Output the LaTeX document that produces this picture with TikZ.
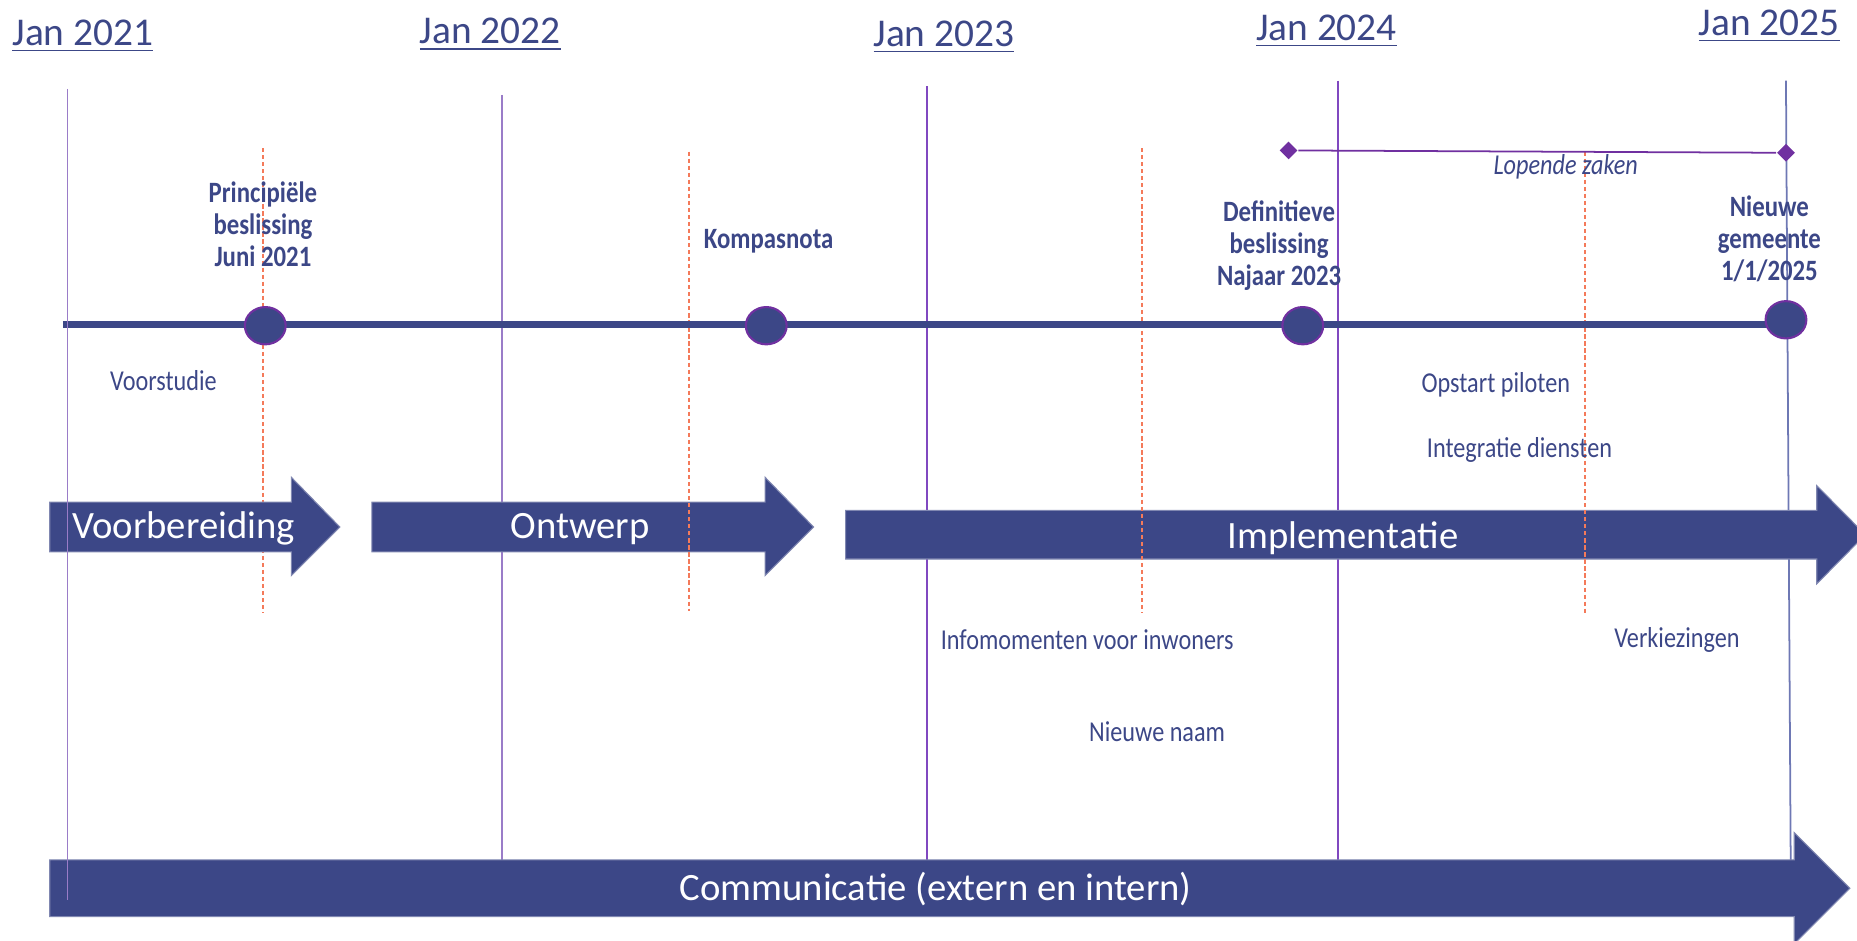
\documentclass[tikz,border=0pt]{standalone}
\usepackage{fontspec}
\setmainfont{Carlito}
\newfontfamily\narrowfont[FakeStretch=0.84]{Carlito}
\usetikzlibrary{positioning,shapes.geometric}
\definecolor{navy}{HTML}{3C4787}
\definecolor{paars}{HTML}{7030A0}
\definecolor{rasterlijn}{HTML}{9A7CC8}
\definecolor{rasterdonker}{HTML}{8048C0}
\definecolor{rasterlaatst}{HTML}{6E78B4}
\definecolor{oranje}{HTML}{F47A5A}
\tikzset{
  jaar/.style={font=\fontsize{11.2}{13}\selectfont, text=navy, inner sep=0pt, anchor=base},
  mijlpaal/.style={ellipse, fill=navy, draw=paars, line width=0.6pt, minimum width=11.6pt, minimum height=10.6pt, inner sep=0pt},
  mijltekst/.style={font=\narrowfont\bfseries\fontsize{8.4}{9.1}\selectfont, text=navy, align=center, inner sep=0pt},
  klein/.style={font=\narrowfont\fontsize{8.2}{9.1}\selectfont, text=navy, inner sep=0pt}
}

\begin{document}
\begin{tikzpicture}[
    x=0.011843cm, y=-0.011843cm,
    fase/.style={fill=navy, draw=navy!65!white, line width=0.3pt},
    fasetekst/.style={font=\fontsize{11}{13}\selectfont, text=white, inner sep=0pt, anchor=base},
    raster/.style={draw=rasterlijn, line width=0.5pt},
    halfjaar/.style={draw=oranje, line width=0.5pt, dash pattern=on 1.2pt off 0.8pt},
    tijdlijn/.style={draw=navy, line width=1.9pt},
    ruit/.style={diamond, fill=paars, inner sep=0pt, minimum size=5.2pt},
    lopend/.style={draw=paars, line width=0.5pt}
]
\useasboundingbox (0,0) rectangle (1568,794);
\clip (0,0) rectangle (1568,794);

% jaarlijnen
\draw[raster] (424,80) -- (424,727);
\draw[raster, draw=rasterdonker] (783,73) -- (783,727);
\draw[raster, draw=rasterdonker] (1130,68) -- (1130,727);
\draw[raster, draw=rasterlaatst] (1508,68) -- (1512,727);

% fasen
\path[fase] (314,424) -- (646,424) -- (646,403) -- (687,445) -- (646,486) -- (646,466) -- (314,466) -- cycle;
\path[fase] (714,431) -- (1534,431) -- (1534,410) -- (1575,451.5) -- (1534,493) -- (1534,472) -- (714,472) -- cycle;
\path[fase] (42,726) -- (1515,726) -- (1515,703) -- (1562,750) -- (1515,797) -- (1515,774) -- (42,774) -- cycle;

% halfjaarlijnen
\foreach \x/\ya/\yb in {222/125/518, 582/128/516, 964/125/518, 1338/128/518}
  \draw[halfjaar] (\x,\ya) -- (\x,\yb);

% tijdlijn met mijlpalen
\coordinate (tstart) at (53,274);
\coordinate (teind) at (1500,274);
\draw[tijdlijn] (tstart) -- (teind);
\node[mijlpaal] (principe) at (224,275) {};
\node[mijlpaal] (kompas) at (647,275) {};
\node[mijlpaal] (definitief) at (1100,275) {};
\node[mijlpaal] (nieuw) at (1508,270) {};

\path[fase] (42,424) -- (246,424) -- (246,403) -- (287,445) -- (246,486) -- (246,466) -- (42,466) -- cycle;
\draw[raster] (57,75) -- (57,760);

% lopende zaken
\node[ruit] (lz1) at (1088,127) {};
\node[ruit] (lz2) at (1508,129) {};
\draw[lopend] (lz1) -- (lz2);
\node[klein, font=\narrowfont\itshape\fontsize{8.2}{9.1}\selectfont] (lopend) at (1322,141) {Lopende zaken};

% jaren
\node[jaar] (j21) at (70,38) {\underline{Jan 2021}};
\node[jaar] (j22) at (414,37) {\underline{Jan 2022}};
\node[jaar] (j23) at (797,39) {\underline{Jan 2023}};
\node[jaar] (j24) at (1120,34) {\underline{Jan 2024}};
\node[jaar] (j25) at (1494,30) {\underline{Jan 2025}};

% mijlpaalteksten
\node[mijltekst] (tprincipe) at (222,189) {Principiële\\beslissing\\Juni 2021};
\node[mijltekst] (tkompas) at (649,204) {Kompasnota};
\node[mijltekst] (tdefinitief) at (1080,207) {Definitieve\\beslissing\\Najaar 2023};
\node[mijltekst] (tnieuw) at (1494,202) {Nieuwe\\gemeente\\1/1/2025};

% activiteiten
\node[klein] (voorstudie) at (138,321) {Voorstudie};
\node[klein] (opstart) at (1263,325) {Opstart piloten};
\node[klein] (integratie) at (1283,380) {Integratie diensten};
\node[klein] (info) at (918,540) {Infomomenten voor inwoners};
\node[klein] (verkiezing) at (1416,540) {Verkiezingen};
\node[klein] (naam) at (977,618) {Nieuwe naam};

% fasenamen
\node[fasetekst] (voorbereiding) at (155,455) {Voorbereiding};
\node[fasetekst] (ontwerp) at (490,455) {Ontwerp};
\node[fasetekst] (implementatie) at (1134,463) {Implementatie};
\node[fasetekst] (communicatie) at (790,760) {Communicatie (extern en intern)};
\end{tikzpicture}
\end{document}
